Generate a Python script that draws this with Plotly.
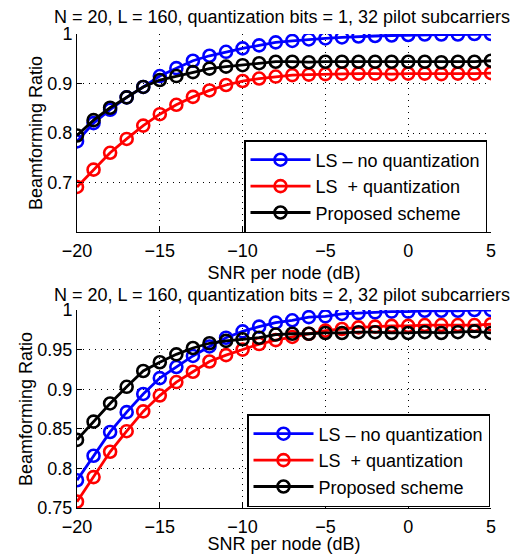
import plotly.graph_objects as go

snr = list(range(-20, 6))

# Top panel (1 quantization bit)
top_ls_noq = [0.783, 0.820, 0.847, 0.872, 0.893, 0.915, 0.931, 0.946, 0.956, 0.964, 0.971, 0.977,
              0.983, 0.986, 0.989, 0.991, 0.993, 0.995, 0.996, 0.997, 0.998, 0.999, 0.999, 0.999, 1.000, 1.000]
top_ls_q = [0.691, 0.726, 0.760, 0.788, 0.815, 0.838, 0.857, 0.873, 0.886, 0.897, 0.905, 0.910,
            0.914, 0.917, 0.918, 0.919, 0.920, 0.920, 0.920, 0.919, 0.920, 0.920, 0.919, 0.920, 0.920, 0.921]
top_prop = [0.795, 0.826, 0.851, 0.872, 0.893, 0.907, 0.915, 0.923, 0.930, 0.934, 0.937, 0.941,
            0.944, 0.944, 0.943, 0.944, 0.944, 0.944, 0.944, 0.944, 0.944, 0.944, 0.943, 0.944, 0.944, 0.946]

# Bottom panel (2 quantization bits)
bot_ls_noq = [0.785, 0.816, 0.846, 0.871, 0.894, 0.914, 0.928, 0.942, 0.954, 0.965, 0.973, 0.979,
              0.984, 0.987, 0.991, 0.992, 0.995, 0.996, 0.997, 0.998, 0.998, 0.999, 0.999, 0.999, 1.000, 1.000]
bot_ls_q = [0.758, 0.789, 0.821, 0.847, 0.872, 0.892, 0.909, 0.922, 0.935, 0.943, 0.950, 0.957,
            0.962, 0.966, 0.970, 0.974, 0.976, 0.978, 0.979, 0.980, 0.980, 0.981, 0.981, 0.981, 0.981, 0.982]
bot_prop = [0.836, 0.859, 0.882, 0.903, 0.923, 0.934, 0.944, 0.952, 0.958, 0.961, 0.963, 0.965,
            0.969, 0.970, 0.970, 0.971, 0.971, 0.972, 0.972, 0.971, 0.971, 0.972, 0.971, 0.972, 0.973, 0.971]

series_names = ["LS \u2013 no quantization", "LS  + quantization", "Proposed scheme"]
series_colors = ["#0000ff", "#ff0000", "#000000"]

x_ticks = [-20, -15, -10, -5, 0, 5]
top_y_ticks = [0.7, 0.8, 0.9, 1.0]
top_y_text = ["0.7", "0.8", "0.9", "1"]
bot_y_ticks = [0.75, 0.8, 0.85, 0.9, 0.95, 1.0]
bot_y_text = ["0.75", "0.8", "0.85", "0.9", "0.95", "1"]

titles = ["N = 20, L = 160, quantization bits = 1, 32 pilot subcarriers",
          "N = 20, L = 160, quantization bits = 2, 32 pilot subcarriers"]

# The page body has an 8px margin, so the figure is drawn 8px smaller and
# target window-pixel positions are shifted by OFF.
OFF = 8
W, H = 520 - OFF, 554 - OFF
PLOT_L, PLOT_R, PLOT_T, PLOT_B = 77, 491, 34, 508   # window pixels
L, T = PLOT_L - OFF, PLOT_T - OFF
R, B = W - (PLOT_R - OFF), H - (PLOT_B - OFF)
PW, PH = W - L - R, H - T - B
FONT = "Liberation Sans, Arial, sans-serif"
FS = 18


def px(xp):
    return (xp - OFF - L) / PW


def py(yp):
    return (H - B - (yp - OFF)) / PH


fig = go.Figure()

for i, ys in enumerate([top_ls_noq, top_ls_q, top_prop]):
    fig.add_trace(go.Scatter(x=snr, y=ys, mode="lines+markers", name=series_names[i],
                             line=dict(color=series_colors[i], width=2.8),
                             marker=dict(symbol="circle-open", size=12, color=series_colors[i],
                                         line=dict(width=2.6, color=series_colors[i])),
                             xaxis="x", yaxis="y", legend="legend"))
for i, ys in enumerate([bot_ls_noq, bot_ls_q, bot_prop]):
    fig.add_trace(go.Scatter(x=snr, y=ys, mode="lines+markers", name=series_names[i],
                             line=dict(color=series_colors[i], width=2.8),
                             marker=dict(symbol="circle-open", size=12, color=series_colors[i],
                                         line=dict(width=2.6, color=series_colors[i])),
                             xaxis="x2", yaxis="y2", legend="legend2"))

axis_common = dict(showline=True, linecolor="black", linewidth=1, mirror=False,
                   ticks="inside", ticklen=5, tickcolor="black", automargin=False,
                   showgrid=True, gridcolor="black", gridwidth=1, griddash="1px,5px",
                   zeroline=False, tickfont=dict(size=FS, color="black", family=FONT))

fig.update_layout(
    width=W, height=H, margin=dict(l=L, r=R, t=T, b=B, autoexpand=False),
    paper_bgcolor="white", plot_bgcolor="white",
    font=dict(family=FONT, color="black", size=FS),
    xaxis=dict(domain=[0, 1], anchor="y", range=[-20, 5], tickmode="array", tickvals=x_ticks,
               ticklabelstandoff=2,
               title=dict(text="SNR per node (dB)", font=dict(size=FS), standoff=6), **axis_common),
    yaxis=dict(domain=[py(232), 1], anchor="x", range=[0.6, 1.0], tickmode="array",
               tickvals=top_y_ticks, ticktext=top_y_text,
               title=dict(text="Beamforming Ratio", font=dict(size=FS), standoff=0), **axis_common),
    xaxis2=dict(domain=[0, 1], anchor="y2", range=[-20, 5], tickmode="array", tickvals=x_ticks,
                ticklabelstandoff=2,
                title=dict(text="SNR per node (dB)", font=dict(size=FS), standoff=4), **axis_common),
    yaxis2=dict(domain=[0, py(310)], anchor="x2", range=[0.75, 1.0], tickmode="array",
                tickvals=bot_y_ticks, ticktext=bot_y_text,
                title=dict(text="Beamforming Ratio", font=dict(size=FS), standoff=0), **axis_common),
    legend=dict(x=px(487), y=py(140), xanchor="right", yanchor="top",
                bgcolor="white", bordercolor="black", borderwidth=1.5,
                font=dict(size=FS, family=FONT), itemwidth=60, tracegroupgap=0),
    legend2=dict(x=px(490), y=py(414), xanchor="right", yanchor="top",
                 bgcolor="white", bordercolor="black", borderwidth=1.5,
                 font=dict(size=FS, family=FONT), itemwidth=60, tracegroupgap=0),
    annotations=[
        dict(text=titles[0], x=px(282), y=py(17), xref="paper", yref="paper",
             showarrow=False, font=dict(size=18, family=FONT), xanchor="center", yanchor="middle"),
        dict(text=titles[1], x=px(282), y=py(295), xref="paper", yref="paper",
             showarrow=False, font=dict(size=18, family=FONT), xanchor="center", yanchor="middle"),
    ],
)

fig.write_html("out.html")
